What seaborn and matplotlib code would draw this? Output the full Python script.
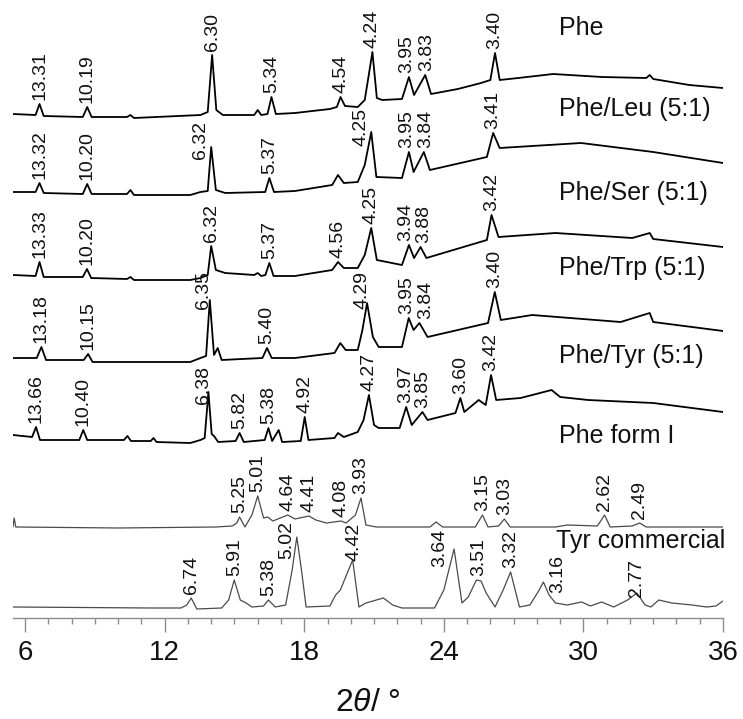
import numpy as np
import pandas as pd
import seaborn as sns
from matplotlib import pyplot as plt
from matplotlib.ticker import MultipleLocator

# patterns, 2theta (deg) and intensity (arbitrary units, above each baseline)
names = ['Phe', 'Phe/Leu (5:1)', 'Phe/Ser (5:1)', 'Phe/Trp (5:1)', 'Phe/Tyr (5:1)', 'Phe form I', 'Tyr commercial']

phe_x = [5.48, 6.45, 6.62, 6.80, 8.48, 8.67, 8.86, 10.38, 10.53, 10.68, 13.54, 13.85, 14.04, 14.22, 14.5,
         15.85, 16.0, 16.15, 16.42, 16.59, 16.78, 17.6, 19.1, 19.4, 19.56, 19.75, 20.3, 20.6, 20.78, 20.93,
         21.12, 21.35, 22.2, 22.5, 22.72, 23.2, 23.45, 24.6, 25.6, 26.0, 26.2, 26.4, 27.2, 28.7, 30.8,
         32.7, 32.85, 33.0, 34.55, 36.0]
phe_y = [0, -1, 10, -2, -3, 7, -3, -3, -1, -4, -1, 2, 59, 4, -1,
         -1, 4, -1, 0, 17, 0, 1, 5, 7, 17, 8, 7, 14, 40, 62,
         16, 14, 15, 37, 19, 39, 20, 25, 31, 34, 61, 34, 36, 40, 37,
         36, 39, 35, 29, 26]

leu_x = [5.48, 6.45, 6.62, 6.80, 8.48, 8.67, 8.86, 10.38, 10.53, 10.68, 13.1, 13.54, 13.85, 14.0, 14.2, 14.6,
         16.32, 16.5, 16.7, 17.6, 19.2, 19.45, 19.7, 20.3, 20.6, 20.88, 21.1, 22.2, 22.5, 22.7, 23.14, 23.4,
         25.85, 26.12, 26.4, 29.9, 33.0, 36.0]
leu_y = [0, 0, 9, -1, -2, 8, -2, -2, 2, -3, -3, 0, 1, 45, 2, -1,
         0, 14, 0, 1, 7, 17, 9, 10, 27, 60, 15, 14, 40, 20, 40, 22,
         35, 59, 44, 49, 40, 29]

ser_x = [5.48, 6.45, 6.62, 6.80, 8.48, 8.66, 8.84, 10.38, 10.53, 10.68, 13.1, 13.54, 13.85, 14.0, 14.2, 14.6,
         15.85, 16.0, 16.15, 16.33, 16.5, 16.68, 17.6, 19.2, 19.45, 19.7, 20.3, 20.6, 20.88, 21.12, 22.2,
         22.5, 22.72, 23.0, 23.25, 25.85, 26.05, 26.35, 28.8, 32.1, 32.85, 33.0, 36.0]
ser_y = [0, -1, 13, -2, -2, 6, -3, -4, -2, -5, -5, -3, 0, 29, 5, 2,
         0, 2, -1, 0, 12, -1, -1, 5, 13, 7, 7, 20, 47, 15, 10,
         30, 17, 28, 17, 35, 60, 38, 42, 37, 42, 36, 28]

trp_x = [5.48, 6.5, 6.7, 6.9, 8.52, 8.71, 8.9, 13.1, 13.54, 13.78, 13.94, 14.12, 14.28, 14.45, 16.2, 16.4,
         16.6, 17.6, 19.3, 19.55, 19.78, 20.3, 20.5, 20.7, 20.95, 21.2, 22.2, 22.49, 22.7, 22.95, 23.3,
         25.9, 26.19, 26.45, 27.8, 31.6, 32.85, 33.0, 36.0]
trp_y = [0, 0, 11, -2, -2, 4, -4, -4, 0, 2, 58, 3, 10, -2, 0, 10,
         0, 0, 5, 15, 8, 8, 28, 55, 21, 11, 11, 40, 28, 35, 21,
         35, 66, 38, 43, 36, 45, 36, 27]

tyr_x = [5.48, 6.3, 6.47, 6.64, 8.33, 8.5, 8.67, 10.25, 10.4, 10.55, 11.4, 11.52, 11.65, 13.1, 13.54, 13.72,
         13.88, 14.02, 14.12, 14.3, 15.05, 15.22, 15.4, 16.3, 16.46, 16.62, 16.9, 17.05, 17.85, 18.02, 18.18,
         19.3, 19.45, 19.7, 20.3, 20.55, 20.78, 21.0, 21.2, 22.1, 22.38, 22.62, 23.08, 23.3, 24.5, 24.71,
         24.88, 25.5, 25.8, 26.03, 26.25, 27.3, 28.63, 29.0, 30.2, 33.0, 36.0]
tyr_y = [0, -2, 8, -5, -5, 5, -5, -5, -1, -6, -6, -3, -7, -8, -5, -3,
         43, 1, -1, -7, -6, 2, -7, -5, 7, -6, 5, -7, -6, 18, -5,
         -3, 2, -2, 3, 15, 40, 10, 7, 7, 28, 10, 23, 15, 22, 37,
         23, 35, 30, 60, 35, 37, 45, 38, 35, 32, 23]

form1_x = [5.48, 5.53, 5.6, 10.0, 14.2, 14.9, 15.1, 15.22, 15.45, 15.75, 16.0, 16.25, 16.43, 16.65, 17.29,
           17.6, 18.2, 18.5, 18.95, 19.58, 19.8, 20.2, 20.44, 20.65, 21.1, 23.4, 23.67, 23.95, 25.35, 25.66,
           25.9, 26.35, 26.6, 26.85, 28.8, 29.3, 30.6, 30.91, 31.15, 32.1, 32.42, 32.7, 36.0]
form1_y = [0, 9, 0, -1, 0, 1, 4, 10, 0, 12, 31, 9, 10, 6, 12,
           8, 11, 7, 4, 6, 4, 12, 29, 2, 0, 0, 5, 0, 0, 12,
           0, 1, 8, 0, 0, 2, 1, 12, 0, 1, 4, 0, 0]

tyrc_x = [5.48, 11.4, 12.7, 12.95, 13.14, 13.38, 14.45, 14.75, 14.99, 15.25, 15.5, 15.75, 16.25, 16.46, 16.75,
          17.2, 17.48, 17.68, 17.88, 18.08, 19.1, 19.35, 19.55, 20.08, 20.35, 20.65, 21.4, 21.8, 22.2, 23.6,
          24.0, 24.44, 24.78, 25.05, 25.4, 25.6, 25.82, 26.2, 26.55, 26.87, 27.25, 27.7, 28.1, 28.28, 28.52,
          28.8, 29.3, 29.92, 30.3, 30.78, 31.3, 31.9, 32.3, 32.65, 32.9, 33.24, 33.8, 34.66, 35.3, 35.7, 36.0]
tyrc_y = [0, -1, -1, 2, 9, -2, -1, 7, 27, 7, 4, 0, 1, 7, 0,
          2, 37, 70, 37, 0, 1, 12, 17, 47, 0, 4, 9, 2, -1, -1,
          17, 58, 4, 10, 27, 26, 14, 0, 17, 35, 0, 2, 17, 25, 12,
          4, 2, 5, 1, 5, 0, 7, 14, 2, 0, 7, 4, 2, 0, 1, 6]

# peak positions (2theta) and the d-spacing labels written above them
phe_peaks = [6.62, 8.67, 14.04, 16.59, 19.56, 20.93, 22.5, 23.2, 26.2]
phe_d = ['13.31', '10.19', '6.30', '5.34', '4.54', '4.24', '3.95', '3.83', '3.40']
leu_peaks = [6.62, 8.67, 14.0, 16.5, 20.88, 22.5, 23.14, 26.12]
leu_d = ['13.32', '10.20', '6.32', '5.37', '4.25', '3.95', '3.84', '3.41']
ser_peaks = [6.62, 8.66, 14.0, 16.5, 19.45, 20.88, 22.5, 23.0, 26.05]
ser_d = ['13.33', '10.20', '6.32', '5.37', '4.56', '4.25', '3.94', '3.88', '3.42']
trp_peaks = [6.7, 8.71, 13.94, 16.4, 20.7, 22.49, 22.95, 26.19]
trp_d = ['13.18', '10.15', '6.35', '5.40', '4.29', '3.95', '3.84', '3.40']
tyr_peaks = [6.47, 8.5, 13.88, 15.22, 16.46, 18.02, 20.78, 22.38, 23.08, 24.71, 26.03]
tyr_d = ['13.66', '10.40', '6.38', '5.82', '5.38', '4.92', '4.27', '3.97', '3.85', '3.60', '3.42']
form1_peaks = [15.22, 16.0, 17.29, 18.2, 19.58, 20.44, 25.66, 26.6, 30.91, 32.42]
form1_d = ['5.25', '5.01', '4.64', '4.41', '4.08', '3.93', '3.15', '3.03', '2.62', '2.49']
tyrc_peaks = [13.14, 14.99, 16.46, 17.68, 20.08, 24.44, 25.5, 26.87, 28.28, 32.3]
tyrc_d = ['6.74', '5.91', '5.38', '5.02', '4.42', '3.64', '3.51', '3.32', '3.16', '2.77']

traces = [(phe_x, phe_y), (leu_x, leu_y), (ser_x, ser_y), (trp_x, trp_y),
          (tyr_x, tyr_y), (form1_x, form1_y), (tyrc_x, tyrc_y)]
peaks = [(phe_peaks, phe_d), (leu_peaks, leu_d), (ser_peaks, ser_d), (trp_peaks, trp_d),
         (tyr_peaks, tyr_d), (form1_peaks, form1_d), (tyrc_peaks, tyrc_d)]

# layout: vertical stacking (baseline in pixels from top), name placement, label nudges
offsets = [114, 192, 275, 358, 435, 527, 607]
name_x = [28.93, 28.93, 28.93, 28.93, 28.93, 28.93, 28.84]
name_base = [35, 116, 200, 275, 363, 443, 548]
line_colors = ['black'] * 5 + ['#4a4a4a'] * 2
line_widths = [1.3] * 5 + [0.9] * 2
nudge = {(0, '3.95'): (-0.08, 0), (0, '3.83'): (0.08, 0),
         (1, '6.32'): (-0.45, -16), (1, '4.25'): (-0.45, -18),
         (1, '3.95'): (-0.1, 0), (1, '3.84'): (0.1, 0),
         (2, '3.94'): (-0.15, 0), (2, '3.88'): (0.15, 0),
         (3, '6.35'): (-0.25, -13), (3, '4.29'): (-0.2, -10), (3, '3.95'): (-0.1, 0), (3, '3.84'): (0.25, 0),
         (4, '6.38'): (-0.2, -16),
         (6, '5.02'): (-0.45, -26), (6, '4.42'): (0.05, -5), (6, '3.64'): (-0.6, -22),
         (6, '3.16'): (0.6, -15), (6, '2.77'): (0, -8)}

sns.set_theme(style='white')
plt.rcParams['font.family'] = ['Liberation Sans', 'DejaVu Sans']
plt.rcParams['mathtext.fontset'] = 'custom'
plt.rcParams['mathtext.it'] = 'Liberation Sans:italic'
plt.rcParams['mathtext.rm'] = 'Liberation Sans'

fig = plt.figure(figsize=(7.43, 7.19), dpi=100)
ax = fig.add_axes([13 / 743, 1 - 618 / 719, 710 / 743, 618 / 719])

for i, (xs, ys) in enumerate(traces):
  df = pd.DataFrame({'two_theta': xs, 'y': np.array(ys) - offsets[i]})
  sns.lineplot(data=df, x='two_theta', y='y', estimator=None, sort=False,
               color=line_colors[i], lw=line_widths[i], ax=ax)
  xs_a = np.array(xs)
  ys_a = np.array(ys)
  for px, lab in zip(*peaks[i]):
    top = ys_a[np.abs(xs_a - px) <= 0.16].max()
    dx, dy = nudge.get((i, lab), (0, 0))
    ax.text(px + dx, top - offsets[i] + 4 + dy, lab, rotation=90, ha='center', va='bottom',
            fontsize=14, color='#111111', clip_on=False)
  ax.text(name_x[i], -name_base[i], names[i], ha='left', va='baseline', fontsize=18, color='#111111')

ax.set_xlim(5.48, 36)
ax.set_ylim(-618, 0)
ax.set_xticks(range(6, 37, 6))
ax.xaxis.set_minor_locator(MultipleLocator(1))
ax.set_yticks([])
ax.set_ylabel('')
for s in ['left', 'right', 'top']:
  ax.spines[s].set_visible(False)
ax.spines['bottom'].set_color('#8c8c8c')
ax.spines['bottom'].set_linewidth(1)
ax.tick_params(axis='x', which='major', bottom=True, direction='out', length=10, width=1,
               color='#8c8c8c', labelsize=20, labelcolor='#111111', pad=6)
ax.tick_params(axis='x', which='minor', bottom=True, direction='out', length=4, width=1, color='#8c8c8c')
ax.set_xlabel(r'2$\theta$/ °', fontsize=23, color='#111111', va='center')
ax.xaxis.set_label_coords(0.5, -(703 - 618) / 618)
ax.patch.set_alpha(0)

fig.savefig('out.png', dpi=100)
